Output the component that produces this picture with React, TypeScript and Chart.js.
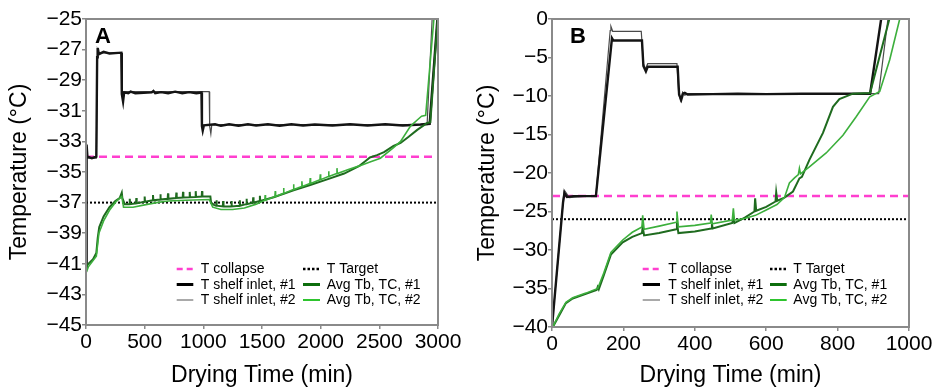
import React, { useEffect, useRef } from 'react';
import { Chart, registerables } from 'chart.js';
Chart.register(...registerables);

const FONT = "'Liberation Sans', Arial, Helvetica, sans-serif";

type P = [number, number];

// ---------- Panel A ----------
const aXTicks = [0, 500, 1000, 1500, 2000, 2500, 3000];
const aYTicks = [-45, -43, -41, -39, -37, -35, -33, -31, -29, -27, -25];
const aCollapse = -34;
const aTarget = -37;
const aShelf1: P[] = [[0,-41.2],[5,-33.2],[12,-34.0],[50,-34.1],[88,-34.0],[95,-27.5],[100,-26.9],[110,-27.3],[150,-27.15],[200,-27.25],[301,-27.2],[305,-29.9],[316,-30.4],[325,-29.8],[360,-29.85],[380,-29.75],[420,-29.85],[560,-29.8],[575,-29.7],[590,-29.85],[640,-29.78],[700,-29.85],[760,-29.75],[820,-29.85],[880,-29.78],[940,-29.85],[984,-29.8],[988,-32.0],[995,-32.3],[1005,-31.95],[1100,-31.88],[1150,-31.98],[1220,-31.88],[1300,-31.98],[1380,-31.88],[1450,-31.96],[1550,-31.88],[1650,-31.98],[1750,-31.88],[1850,-31.96],[1950,-31.9],[2100,-31.96],[2250,-31.88],[2400,-31.96],[2550,-31.88],[2700,-31.96],[2850,-31.9],[2929,-31.85],[2995,-25]];
const aShelf2: P[] = [[0,-41.5],[5,-33.4],[12,-34.1],[88,-34.1],[97,-27.0],[105,-27.2],[301,-27.25],[306,-29.85],[318,-30.2],[326,-29.75],[1050,-29.75],[1054,-32.0],[1064,-32.5],[1072,-31.9],[2907,-31.9],[2950,-25]];
const aProd1: P[] = [[0,-41.2],[20,-41.0],[60,-40.7],[88,-40.3],[100,-39.3],[113,-38.6],[150,-37.9],[200,-37.3],[250,-36.9],[287,-36.7],[305,-36.35],[310,-36.7],[330,-37.1],
[370,-37.1],[373,-36.75],[376,-37.1],[426,-37.05],[429,-36.7],[432,-37.05],[497,-36.95],[500,-36.6],[503,-36.95],[568,-36.85],[571,-36.5],[574,-36.85],[631,-36.8],[634,-36.45],[637,-36.8],[696,-36.75],[699,-36.4],[702,-36.75],[767,-36.7],[770,-36.35],[773,-36.7],[824,-36.67],[827,-36.3],[830,-36.67],[881,-36.65],[884,-36.3],[887,-36.65],[932,-36.63],[935,-36.25],[938,-36.63],[986,-36.6],[989,-36.25],[992,-36.6],[1060,-36.6],[1066,-37.0],[1090,-37.15],[1109,-37.2],[1112,-36.85],[1115,-37.2],[1166,-37.25],[1169,-36.9],[1172,-37.25],[1237,-37.25],[1240,-36.9],[1243,-37.25],[1308,-37.2],[1311,-36.85],[1314,-37.2],[1365,-37.1],[1368,-36.75],[1371,-37.1],[1422,-37.0],[1425,-36.65],[1428,-37.0],[1479,-36.9],[1482,-36.55],[1485,-36.9],
[1600,-36.65],[1769,-36.2],[1911,-35.85],[2068,-35.45],[2200,-35.1],[2330,-34.6],[2380,-34.3],[2420,-34.05],[2480,-33.9],[2540,-33.7],[2621,-33.3],[2681,-33.1],[2750,-32.7],[2823,-32.25],[2908,-31.8],[2935,-31.75],[2997,-25]];
const aProd2: P[] = [[0,-41.6],[20,-41.2],[88,-40.5],[110,-39.0],[150,-38.2],[200,-37.5],[260,-36.9],[305,-36.6],[320,-37.3],[400,-37.3],[500,-37.15],[600,-37.0],[700,-36.9],[850,-36.85],[1050,-36.8],[1080,-37.3],[1150,-37.45],[1250,-37.45],[1350,-37.35],[1450,-37.1],
[1524,-36.85],[1527,-36.5],[1530,-36.85],[1610,-36.6],[1613,-36.25],[1616,-36.6],[1681,-36.4],[1684,-36.05],[1687,-36.4],[1766,-36.15],[1769,-35.8],[1772,-36.15],[1837,-35.95],[1840,-35.6],[1843,-35.95],[1908,-35.75],[1911,-35.4],[1914,-35.75],[1994,-35.5],[1997,-35.15],[2000,-35.5],[2065,-35.3],[2068,-34.95],[2071,-35.3],[2136,-35.1],[2139,-34.75],[2142,-35.1],
[2230,-34.85],[2330,-34.6],[2420,-34.35],[2509,-34.1],[2621,-33.4],[2681,-33.0],[2766,-32.0],[2823,-31.6],[2860,-31.35],[2895,-31.3],[2965,-25]];

// ---------- Panel B ----------
const bXTicks = [0, 200, 400, 600, 800, 1000];
const bYTicks = [-40, -35, -30, -25, -20, -15, -10, -5, 0];
const bCollapse = -23;
const bTarget = -26;
const bShelf1: P[] = [[0,-40],[31,-23.8],[35,-22.6],[42,-23.1],[60,-23.0],[123,-23.0],[168,-2.5],[172,-2.8],[252,-2.8],[256,-6.1],[263,-6.8],[268,-6.2],[352,-6.2],[356,-9.8],[362,-10.5],[367,-9.7],[372,-9.6],[380,-9.8],[450,-9.75],[520,-9.7],[600,-9.75],[700,-9.7],[891,-9.7],[922,0]];
const bShelf2: P[] = [[0,-40],[34,-22.2],[40,-22.6],[48,-23.2],[123,-22.9],[163,-1.5],[165,-0.96],[170,-1.6],[250,-1.6],[256,-5.8],[262,-6.5],[268,-5.8],[350,-5.8],[355,-9.7],[360,-10.6],[366,-9.5],[372,-9.9],[380,-9.7],[915,-9.7],[941,0]];
const bProd1: P[] = [[0,-40.2],[20,-38.5],[39,-36.9],[58,-36.3],[95,-35.7],[125,-35.2],[128,-34.8],[131,-35.1],[145,-33.3],[165,-30.6],[198,-29.0],[225,-28.3],[252,-27.8],[254,-27.0],[258,-28.1],[300,-27.8],[348,-27.3],[350,-26.4],[354,-27.8],[400,-27.6],[446,-27.2],[448,-26.6],[450,-27.2],[505,-26.5],[508,-25.8],[511,-26.5],[540,-25.8],[567,-25.0],[569,-23.3],[572,-24.9],[600,-24.4],[626,-23.7],[628,-22.5],[631,-23.6],[651,-23.2],[675,-22.4],[693,-20.7],[700,-20.5],[721,-18.3],[759,-14.8],[787,-11.4],[805,-10.4],[843,-9.7],[891,-9.6],[945,0]];
const bProd2: P[] = [[0,-40.2],[20,-38.3],[39,-36.8],[58,-36.2],[95,-35.6],[128,-35.0],[145,-33.0],[165,-30.3],[198,-28.7],[225,-27.7],[252,-27.0],[254,-25.5],[258,-27.3],[300,-26.9],[348,-26.4],[350,-25.0],[354,-27.0],[400,-26.8],[444,-26.5],[446,-25.4],[449,-26.6],[505,-26.1],[508,-24.6],[511,-26.1],[540,-25.9],[570,-25.5],[600,-24.8],[630,-24.1],[651,-23.2],[665,-21.3],[680,-20.6],[690,-20.2],[693,-19.4],[696,-20.1],[721,-19.2],[768,-17.4],[815,-15.1],[852,-12.7],[890,-10.1],[918,-9.4],[946,-5.3],[974,0]];

const LABELS = ['T shelf inlet, #1', 'T shelf inlet, #2', 'Avg Tb, TC, #1', 'Avg Tb, TC, #2', 'T collapse', 'T Target'];
// legend grid: row-major, two columns (dataset indices)
const LEGEND_GRID = [[4, 5], [0, 2], [1, 3]];

const STYLES = [
  { color: '#141414', width: 2.4, dash: [] as number[] },
  { color: '#4a4a4a', width: 1.2, dash: [] as number[] },
  { color: '#1f6b1f', width: 2, dash: [] as number[] },
  { color: '#3caf3c', width: 1.6, dash: [] as number[] },
  { color: '#ff3fcf', width: 2.5, dash: [8, 5] },
  { color: '#000000', width: 2, dash: [2, 2] },
];
// legend swatch style per dataset index
const LEGEND_STYLE = [
  { color: '#000000', width: 3, dash: [] as number[] },
  { color: '#555555', width: 1, dash: [] as number[] },
  { color: '#0d6e0d', width: 3, dash: [] as number[] },
  { color: '#2ec42e', width: 2, dash: [] as number[] },
  { color: '#ff3fcf', width: 2.5, dash: [6, 4] },
  { color: '#000000', width: 2.5, dash: [2.5, 2] },
];

const xy = (arr: P[]) => arr.map(([x, y]) => ({ x, y }));

const framePlugin = {
  id: 'frame',
  afterDatasetsDraw(chart: any) {
    const { ctx, chartArea: a } = chart;
    ctx.save();
    ctx.strokeStyle = '#8a8a8a';
    ctx.lineWidth = 2;
    ctx.strokeRect(a.left, a.top, a.right - a.left, a.bottom - a.top);
    ctx.restore();
  },
};

const extrasPlugin = {
  id: 'extras',
  afterDraw(chart: any, _args: any, opts: any) {
    const { ctx } = chart;
    ctx.save();
    ctx.fillStyle = '#000';
    ctx.font = `bold 22px ${FONT}`;
    ctx.textBaseline = 'alphabetic';
    ctx.textAlign = 'left';
    ctx.fillText(opts.letter, opts.letterX, opts.letterY);
    ctx.font = `14px ${FONT}`;
    ctx.textBaseline = 'middle';
    LEGEND_GRID.forEach((row, r) => {
      row.forEach((dsIndex, c) => {
        const y = opts.rows[r];
        const [x1, x2, tx] = opts.cols[c];
        const st = LEGEND_STYLE[dsIndex];
        ctx.beginPath();
        ctx.strokeStyle = st.color;
        ctx.lineWidth = st.width;
        ctx.setLineDash(st.dash);
        ctx.moveTo(x1, y);
        ctx.lineTo(x2, y);
        ctx.stroke();
        ctx.setLineDash([]);
        ctx.fillStyle = '#000';
        ctx.fillText(chart.data.datasets[dsIndex].label, tx, y + 0.5);
      });
    });
    ctx.restore();
  },
};

interface PanelCfg {
  width: number;
  xTicks: number[];
  yTicks: number[];
  series: P[][];
  collapse: number;
  target: number;
  yAxisWidth: number;
  xAxisHeight: number;
  rightPad: number;
  yTitlePad: number;
  letter: string;
  letterX: number;
  cols: number[][];
}

const fmtY = (v: any) => (Number(v) < 0 ? '\u2212' + String(Math.abs(Number(v))) : String(v));

function Panel({ cfg, left }: { cfg: PanelCfg; left: number }) {
  const ref = useRef<HTMLCanvasElement | null>(null);
  useEffect(() => {
    if (!ref.current) return;
    const xMin = cfg.xTicks[0];
    const xMax = cfg.xTicks[cfg.xTicks.length - 1];
    const lines: P[][] = [
      ...cfg.series,
      [[xMin, cfg.collapse], [xMax, cfg.collapse]],
      [[xMin, cfg.target], [xMax, cfg.target]],
    ];
    const datasets = lines.map((d, i) => ({
      label: LABELS[i],
      data: xy(d),
      borderColor: STYLES[i].color,
      borderWidth: STYLES[i].width,
      borderDash: STYLES[i].dash,
      pointRadius: 0,
      fill: false,
      tension: 0,
      order: [3, 4, 2, 1, 5, 6][i],
    }));
    const chart = new Chart(ref.current, {
      type: 'line',
      data: { datasets },
      plugins: [framePlugin, extrasPlugin],
      options: {
        animation: false,
        responsive: false,
        layout: { padding: { top: 19, right: cfg.rightPad, left: 0, bottom: 0 } },
        plugins: {
          legend: { display: false },
          tooltip: { enabled: false },
          extras: { letter: cfg.letter, letterX: cfg.letterX, letterY: 43, rows: [269, 284.5, 300], cols: cfg.cols },
        } as any,
        scales: {
          x: {
            type: 'linear',
            min: xMin,
            max: xMax,
            afterBuildTicks: (s: any) => { s.ticks = cfg.xTicks.map((v) => ({ value: v })); },
            afterFit: (s: any) => { s.height = cfg.xAxisHeight; },
            ticks: { font: { family: FONT, size: 21 }, color: '#000', padding: 1, maxRotation: 0, autoSkip: false, callback: (v: any) => String(v) },
            grid: { display: true, drawOnChartArea: false, drawTicks: true, tickLength: 4, color: '#8a8a8a', lineWidth: 1.5 },
            border: { display: false },
            title: { display: true, text: 'Drying Time (min)', font: { family: FONT, size: 23 }, color: '#000', padding: { top: 0, bottom: 0 } },
          },
          y: {
            type: 'linear',
            min: cfg.yTicks[0],
            max: cfg.yTicks[cfg.yTicks.length - 1],
            afterBuildTicks: (s: any) => { s.ticks = cfg.yTicks.map((v) => ({ value: v })); },
            afterFit: (s: any) => { s.width = cfg.yAxisWidth; },
            ticks: { font: { family: FONT, size: 21 }, color: '#000', padding: 0, autoSkip: false, callback: fmtY },
            grid: { display: true, drawOnChartArea: false, drawTicks: true, tickLength: 4, color: '#8a8a8a', lineWidth: 1.5 },
            border: { display: false },
            title: { display: true, text: 'Temperature (°C)', font: { family: FONT, size: 23 }, color: '#000', padding: { top: cfg.yTitlePad, bottom: 0 } },
          },
        },
      } as any,
    });
    return () => chart.destroy();
  }, [cfg]);
  return (
    <canvas
      ref={ref}
      width={cfg.width}
      height={389}
      style={{ position: 'absolute', left, top: 0, width: cfg.width, height: 389, display: 'block' }}
    />
  );
}

const cfgA: PanelCfg = {
  width: 470,
  xTicks: aXTicks,
  yTicks: aYTicks,
  series: [aShelf1, aShelf2, aProd1, aProd2],
  collapse: aCollapse,
  target: aTarget,
  yAxisWidth: 86,
  xAxisHeight: 64,
  rightPad: 32,
  yTitlePad: 6,
  letter: 'A',
  letterX: 95,
  cols: [[176.7, 193.3, 200.7], [303, 320, 326.7]],
};

const cfgB: PanelCfg = {
  width: 466,
  xTicks: bXTicks,
  yTicks: bYTicks,
  series: [bShelf1, bShelf2, bProd1, bProd2],
  collapse: bCollapse,
  target: bTarget,
  yAxisWidth: 82,
  xAxisHeight: 62,
  rightPad: 27,
  yTitlePad: 4,
  letter: 'B',
  letterX: 100,
  cols: [[172.7, 190, 198.3], [300, 316.7, 323.3]],
};

export default function App() {
  return (
    <div style={{ position: 'fixed', left: 0, top: 0, width: 936, height: 389, background: '#fff' }}>
      <Panel cfg={cfgA} left={0} />
      <Panel cfg={cfgB} left={470} />
    </div>
  );
}
